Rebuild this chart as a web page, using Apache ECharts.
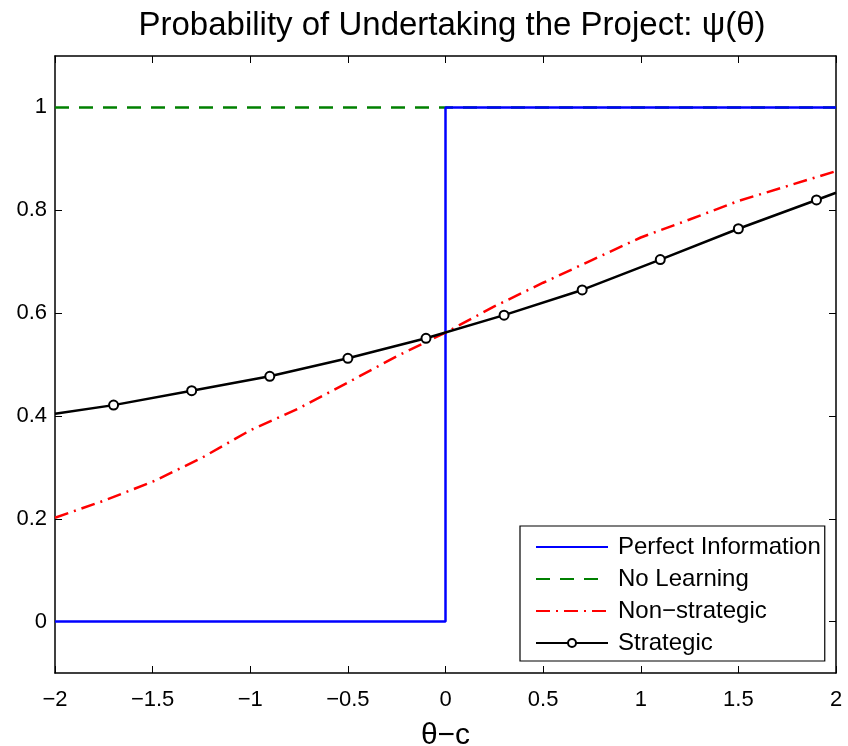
<!doctype html>
<html>
    <head>
        <meta charset="utf-8">
        <title>Probability of Undertaking the Project</title>
        <style>
            html, body { margin: 0; padding: 0; background: #fff; }
            #main { width: 848px; height: 746px; }
        </style>
    </head>
    <body>
        <div id="main"></div>
        <script src="https://cdn.jsdelivr.net/npm/echarts@6/dist/echarts.min.js"></script>
        <script>
            var chart = echarts.init(document.getElementById('main'));

            // series
            var perfectInfo = [[-2, 0], [0, 0], [0, 1], [2, 1]];
            var noLearning = [[-2, 1], [2, 1]];
            var nonStrategicX = [-2, -1.75, -1.5, -1.25, -1, -0.75, -0.5, -0.25, 0, 0.25, 0.5, 0.75, 1, 1.25, 1.5, 1.75, 2];
            var nonStrategicY = [0.202, 0.235, 0.272, 0.318, 0.372, 0.415, 0.465, 0.516, 0.562, 0.613, 0.659, 0.703, 0.747, 0.782, 0.818, 0.847, 0.876];
            var strategicX = [-2, -1.7, -1.3, -0.9, -0.5, -0.1, 0.3, 0.7, 1.1, 1.5, 1.9, 2];
            var strategicY = [0.404, 0.421, 0.449, 0.477, 0.512, 0.551, 0.596, 0.645, 0.704, 0.764, 0.820, 0.834];
            var markerless = [-2, 2]; // end points carry no marker
            var yTicks = [0, 0.2, 0.4, 0.6, 0.8, 1];

            var fontFam = '"Liberation Sans", Arial, sans-serif';

            function minus(v) {
                return String(v).replace('-', '\u2212');
            }

            var nonStrategic = nonStrategicX.map(function (x, i) {
                return [x, nonStrategicY[i]];
            });
            var strategic = strategicX.map(function (x, i) {
                var item = { value: [x, strategicY[i]] };
                if (markerless.indexOf(x) >= 0) item.symbol = 'none';
                return item;
            });

            var axisBase = {
                type: 'value',
                axisLine: { show: true, onZero: false, lineStyle: { color: '#000', width: 1.5 } },
                axisTick: { show: true, inside: true, length: 7, lineStyle: { color: '#000', width: 1 } },
                splitLine: { show: false }
            };
            var noMark = { opacity: 0 };

            chart.setOption({
                animation: false,
                backgroundColor: '#fff',
                title: {
                    text: 'Probability of Undertaking the Project: \u03c8(\u03b8)',
                    left: 447,
                    top: 4,
                    textAlign: 'center',
                    textStyle: { fontFamily: fontFam, fontSize: 33, fontWeight: 'normal', color: '#000' }
                },
                grid: { left: 55, right: 12, top: 56, bottom: 73, outerBoundsMode: 'none', containLabel: false },
                legend: {
                    orient: 'vertical',
                    left: 520,
                    top: 526,
                    itemWidth: 72,
                    itemHeight: 10,
                    itemGap: 8,
                    padding: [9, 4, 6, 15],
                    borderColor: '#000',
                    borderWidth: 1.2,
                    backgroundColor: '#fff',
                    textStyle: { fontFamily: fontFam, fontSize: 24, color: '#000', padding: [0, 0, 0, 5] },
                    data: [
                        { name: 'Perfect Information', itemStyle: noMark },
                        { name: 'No Learning', itemStyle: noMark },
                        { name: 'Non\u2212strategic', itemStyle: noMark },
                        'Strategic'
                    ]
                },
                xAxis: [
                    Object.assign({}, axisBase, {
                        min: -2, max: 2, interval: 0.5,
                        position: 'bottom',
                        name: '\u03b8\u2212c',
                        nameLocation: 'middle',
                        nameGap: 48,
                        nameTextStyle: { fontFamily: fontFam, fontSize: 30, color: '#000' },
                        axisLabel: {
                            margin: 16,
                            fontFamily: fontFam, fontSize: 22, color: '#000',
                            formatter: minus
                        }
                    }),
                    Object.assign({}, axisBase, {
                        min: -2, max: 2, interval: 0.5,
                        position: 'top',
                        axisLabel: { show: false }
                    })
                ],
                yAxis: [
                    Object.assign({}, axisBase, {
                        min: -0.1, max: 1.1,
                        position: 'left',
                        axisLabel: {
                            margin: 8,
                            fontFamily: fontFam, fontSize: 22, color: '#000',
                            customValues: yTicks
                        },
                        axisTick: { show: true, inside: true, length: 7, lineStyle: { color: '#000' }, customValues: yTicks }
                    }),
                    Object.assign({}, axisBase, {
                        min: -0.1, max: 1.1,
                        position: 'right',
                        axisLabel: { show: false, customValues: yTicks },
                        axisTick: { show: true, inside: true, length: 7, lineStyle: { color: '#000' }, customValues: yTicks }
                    })
                ],
                series: [
                    {
                        name: 'No Learning',
                        type: 'line',
                        data: noLearning,
                        symbol: 'none',
                        color: '#008000',
                        lineStyle: { color: '#008000', width: 2.5, type: [14, 10] },
                        z: 2
                    },
                    {
                        name: 'Perfect Information',
                        type: 'line',
                        data: perfectInfo,
                        symbol: 'none',
                        color: '#0000ff',
                        lineStyle: { color: '#0000ff', width: 2.5 },
                        z: 3
                    },
                    {
                        name: 'Non\u2212strategic',
                        type: 'line',
                        data: nonStrategic,
                        symbol: 'none',
                        color: '#ff0000',
                        lineStyle: { color: '#ff0000', width: 2.5, type: [14, 6, 2, 6] },
                        z: 4
                    },
                    {
                        name: 'Strategic',
                        type: 'line',
                        data: strategic,
                        symbol: 'circle',
                        symbolSize: 9,
                        showAllSymbol: true,
                        color: '#000',
                        itemStyle: { color: '#fff', borderColor: '#000', borderWidth: 2 },
                        lineStyle: { color: '#000', width: 2.5 },
                        z: 5
                    }
                ]
            });

            window.addEventListener('resize', function () {
                chart.resize();
            });
        </script>
    </body>
</html>
